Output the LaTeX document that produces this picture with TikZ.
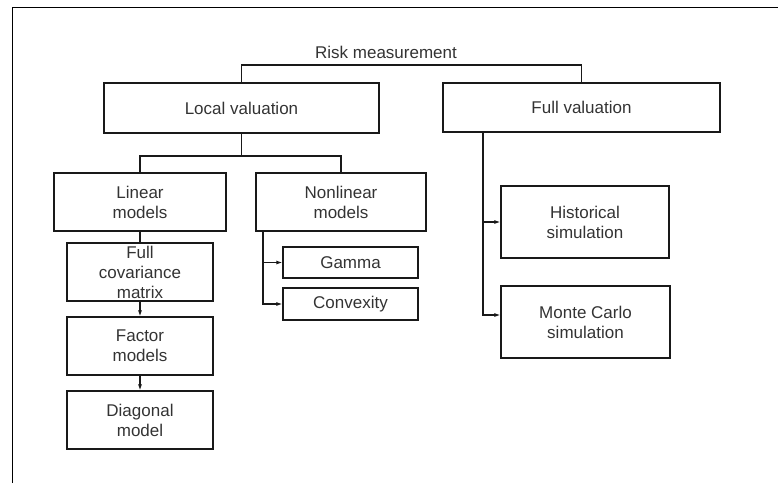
\documentclass[tikz,border=0pt]{standalone}
\usepackage{fontspec}
\setmainfont{Liberation Sans}
\usetikzlibrary{arrows.meta}
\begin{document}
\begin{tikzpicture}[x=1pt,y=-1pt,
  box/.style={draw=black!90, line width=1.2pt, inner sep=0pt, align=center,
    text=black!80, font=\fontsize{17}{20}\selectfont},
  conn/.style={draw=black!90, line width=1.1pt},
  arr/.style={conn, -{Latex[length=6pt,width=4pt]}},
  lbl/.style={inner sep=0pt, text=black!80, font=\fontsize{17}{20}\selectfont}]
\useasboundingbox (0,0) rectangle (778,483);
\draw[line width=1pt] (12,483) -- (12,7) -- (778,7);
\node[lbl] (rm) at (386,52) {Risk measurement};
\node[box, minimum width=275, minimum height=50] (lv) at (241.5,108) {Local valuation};
\node[box, minimum width=277, minimum height=49] (fv) at (581.5,107.5) {Full valuation};
\node[box, minimum width=172, minimum height=58] (lin) at (140,202) {Linear\\models};
\node[box, minimum width=170, minimum height=58] (nl) at (341,202) {Nonlinear\\models};
\node[box, minimum width=146, minimum height=58] (fcm) at (140,272) {Full\\covariance\\matrix};
\node[box, minimum width=146, minimum height=58] (fm) at (140,346) {Factor\\models};
\node[box, minimum width=146, minimum height=58] (dm) at (140,420) {Diagonal\\model};
\node[box, minimum width=135, minimum height=31] (ga) at (350.5,262.5) {Gamma};
\node[box, minimum width=135, minimum height=32] (cx) at (350.5,304) {Convexity};
\node[box, minimum width=168, minimum height=72] (hs) at (585,222) {Historical\\simulation};
\node[box, minimum width=169, minimum height=72] (mc) at (585.5,322) {Monte Carlo\\simulation};
\coordinate (rmj) at (400,65);
\coordinate (lvj) at (241.5,156);
\coordinate (fvx) at (483,132);
\coordinate (nlx) at (263,231);
\draw[conn] (lv.north) |- (rmj) -| (fv.north);
\draw[conn] (lv.south) -- (lvj);
\draw[conn] (lin.north) |- (lvj) -| (nl.north);
\draw[conn] (lin.south) -- (fcm.north);
\draw[arr] (fcm.south) -- (fm.north);
\draw[arr] (fm.south) -- (dm.north);
\draw[arr] (nlx) |- (cx.west);
\draw[arr] (nlx |- ga.west) -- (ga.west);
\draw[arr] (fvx) |- ([yshift=7pt]mc.west);
\draw[arr] (fvx |- hs.west) -- (hs.west);
\end{tikzpicture}
\end{document}
